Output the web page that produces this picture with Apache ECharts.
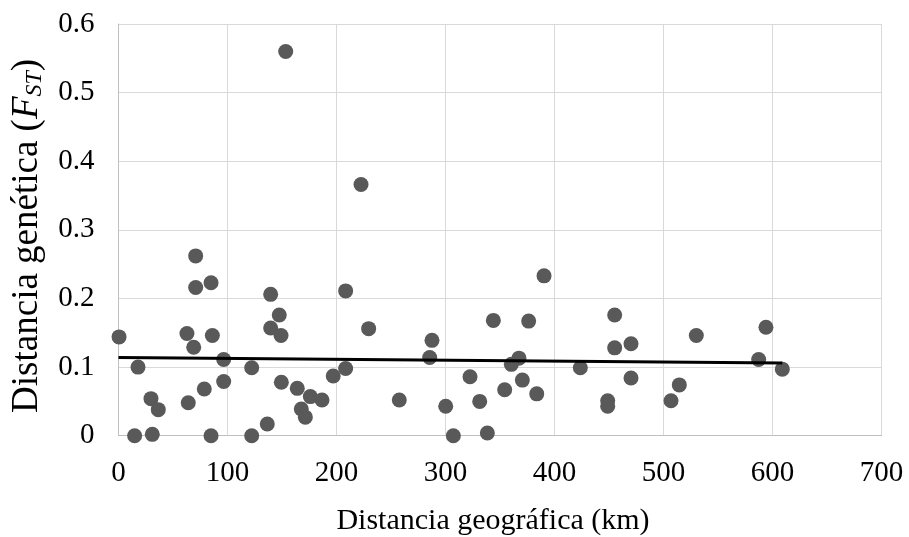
<!DOCTYPE html>
<html>
<head>
<meta charset="utf-8">
<script src="https://cdn.jsdelivr.net/npm/echarts@6/dist/echarts.min.js"></script>
<style>
html,body{margin:0;padding:0;background:#fff;}
#chart{width:909px;height:537px;}
</style>
</head>
<body>
<div id="chart"></div>
<script>
var distKm = [153.4,222.5,0.5,70.8,70.8,84.9,139.6,147.5,139.6,149.1,62.8,86.1,69,208.4,229.5,17.9,96.5,122.2,96.5,78.7,29.8,36.5,64,14.8,31,84.9,122.2,136.5,149.4,164,176,186.7,167.7,171.4,197,208.4,287.6,285.5,257.6,300.2,307.2,322.5,331.4,338.4,343.9,376.3,390.4,354.3,360.4,367.4,370.5,383.7,423.7,455.2,455.2,470.2,470.2,448.8,448.8,530.1,514.5,506.9,594,587.3,609];
var fst = [0.560,0.366,0.144,0.262,0.216,0.223,0.206,0.176,0.157,0.146,0.149,0.146,0.129,0.211,0.156,0.100,0.111,0.099,0.079,0.068,0.054,0.038,0.048,0,0.002,0,0,0.017,0.078,0.069,0.057,0.052,0.039,0.027,0.087,0.098,0.139,0.114,0.052,0.043,0,0.086,0.050,0.004,0.168,0.167,0.233,0.067,0.104,0.113,0.081,0.061,0.099,0.176,0.128,0.134,0.084,0.051,0.043,0.146,0.074,0.051,0.158,0.111,0.097];
var trendX = [0, 609];
var trendY = [0.114, 0.106];
var xTitle = 'Distancia geográfica (km)';
var yTitle = 'Distancia genética (';

var scatterData = distKm.map(function(x,i){return [x, fst[i]];});
var trendData = trendX.map(function(x,i){return [x, trendY[i]];});

var FONT = '"Liberation Serif","Times New Roman",serif';
var FS = 29;
var YFS = 37;
var chart = echarts.init(document.getElementById('chart'), null, {renderer:'canvas'});
chart.setOption({
  animation:false,
  backgroundColor:'#fff',
  grid:{left:118.5, right:27.5, top:24, bottom:101.3, containLabel:false, outerBoundsMode:'none'},
  xAxis:{
    type:'value', min:0, max:700, interval:100,
    axisLine:{show:true, lineStyle:{color:'#bfbfbf', width:1}},
    axisTick:{show:false},
    splitLine:{show:true, lineStyle:{color:'#d9d9d9', width:1}},
    axisLabel:{color:'#000', fontFamily:FONT, fontSize:FS, margin:23},
    name:xTitle, nameLocation:'middle', nameGap:70,
    nameTextStyle:{color:'#000', fontFamily:FONT, fontSize:30, padding:[0,14,0,0]}
  },
  yAxis:{
    type:'value', min:0, max:0.6, interval:0.1,
    axisLine:{show:true, lineStyle:{color:'#bfbfbf', width:1}},
    axisTick:{show:false},
    splitLine:{show:true, lineStyle:{color:'#d9d9d9', width:1}},
    axisLabel:{color:'#000', fontFamily:FONT, fontSize:FS, margin:24,
      formatter:function(v){return v===0?'0':(+v.toFixed(1)).toString();}},
    name:'{a|' + yTitle + '}{i|F}{s|ST}{a|)}', nameLocation:'middle', nameGap:72, nameRotate:90,
    nameTextStyle:{color:'#000', fontFamily:FONT, fontSize:YFS, padding:[0,12,0,0],
      rich:{
        a:{color:'#000', fontFamily:FONT, fontSize:YFS},
        i:{color:'#000', fontFamily:FONT, fontSize:YFS, fontStyle:'italic'},
        s:{color:'#000', fontFamily:FONT, fontSize:24, fontStyle:'italic', verticalAlign:'bottom', padding:[15,0,0,0]}
      }}
  },
  series:[
    {type:'scatter', data:scatterData, symbol:'circle', symbolSize:15,
     itemStyle:{color:'#595959', opacity:1}, z:2},
    {type:'line', data:trendData, symbol:'none', showSymbol:false,
     lineStyle:{color:'#000', width:3}, z:3, silent:true}
  ]
});
</script>
</body>
</html>
